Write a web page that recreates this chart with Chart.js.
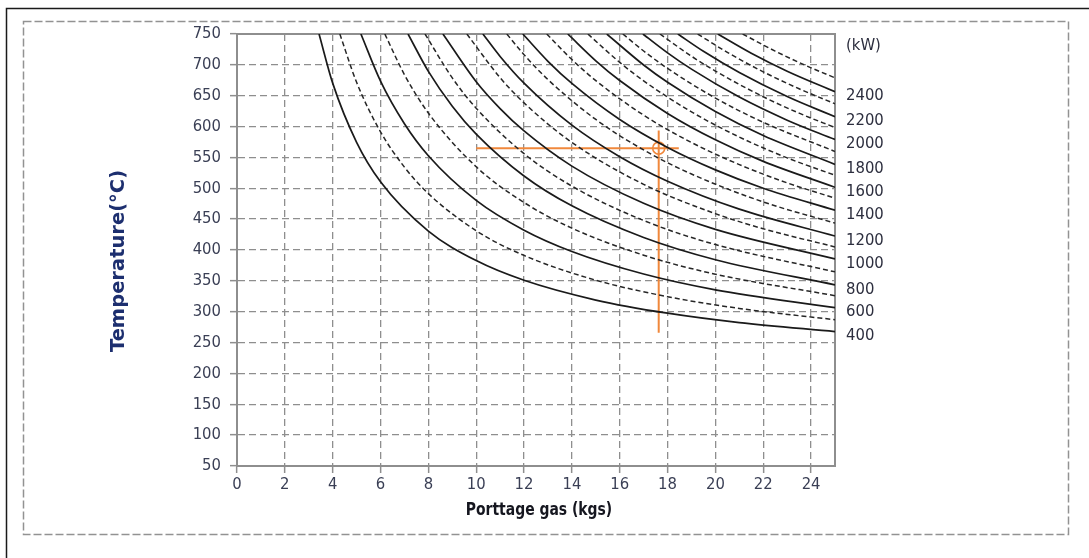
<!DOCTYPE html>
<html><head><meta charset="utf-8">
<script src="https://cdn.jsdelivr.net/npm/chart.js@4.4.1/dist/chart.umd.min.js"></script>
<style>html,body{margin:0;padding:0;background:#fff;overflow:hidden}canvas{display:block}</style>
</head><body>
<canvas id="c" width="1089" height="558"></canvas>
<script>
// ---- data ----
const xTitle = 'Porttage gas (kgs)';
const yTitle = 'Temperature(°C)';
const unitLabel = '(kW)';
const solidLabels = ['400','600','800','1000','1200','1400','1600','1800','2000','2200','2400'];

// solid curves (labelled power levels)
const kw400  = [[3.43,750],[4,670.4],[5,574.5],[6,510.6],[8,430.7],[10,382.8],[12,350.9],[15,318.9],[18,297.6],[21,282.4],[25,267.8]];
const kw600  = [[5.18,750],[6,673.6],[7,604.6],[8,552.8],[10,480.4],[12,432.1],[14,397.6],[17,361.1],[20,335.5],[25,306.5]];
const kw800  = [[7.15,750],[8,689.5],[9,633.0],[10,587.8],[12,519.9],[14,471.5],[17,420.2],[20,384.2],[25,343.5]];
const kw1000 = [[8.61,750],[10,672.7],[11,629.2],[12,592.9],[14,535.9],[17,475.6],[20,433.4],[25,385.5]];
const kw1200 = [[10.28,750],[11,713.6],[12,670.3],[14,602.3],[16,551.2],[18,511.5],[21,466.2],[25,422.6]];
const kw1400 = [[11.95,750],[13,705.8],[14,669.9],[16,611.5],[18,566.1],[20,529.8],[22,500.1],[25,464.4]];
const kw1600 = [[13.83,750],[15,706.6],[16,674.6],[18,621.2],[20,578.5],[22,543.6],[25,501.6]];
const kw1800 = [[15.46,750],[17,699.8],[18,671.8],[20,624.3],[22,585.4],[25,538.7]];
const kw2000 = [[16.97,750],[18,719.5],[19,693.1],[21,647.8],[23,610.4],[25,579.0]];
const kw2200 = [[18.43,750],[19.5,722.0],[21,687.6],[23,648.7],[25,616.0]];
const kw2400 = [[20.10,750],[21.5,718.9],[23,689.8],[25,656.5]];

// dashed curves (intermediate levels)
const kw500  = [[4.30,750],[5,671.7],[6,591.5],[7,534.3],[8,491.4],[10,431.2],[12,391.2],[15,351.1],[18,324.4],[21,305.3],[25,287.0]];
const kw700  = [[6.18,750],[7,684.1],[8,621.9],[10,534.9],[12,476.9],[14,435.4],[17,391.6],[20,360.8],[25,326.0]];
const kw900  = [[7.86,750],[9,678.8],[10,629.7],[12,556.1],[14,503.5],[17,447.8],[20,408.8],[25,364.6]];
const kw1100 = [[9.61,750],[11,679.2],[12,638.4],[14,574.3],[17,506.4],[20,458.9],[22,434.4],[25,405.0]];
const kw1300 = [[11.28,750],[12,716.5],[13,676.1],[15,611.5],[17,562.1],[19,523.1],[22,477.9],[25,443.5]];
const kw1500 = [[12.95,750],[14,708.6],[15,674.5],[17,618.5],[19,574.2],[21,538.4],[23,508.8],[25,484.0]];
const kw1700 = [[14.67,750],[16,704.0],[17,674.1],[19,623.8],[21,583.0],[23,549.3],[25,521.1]];
const kw1900 = [[16.13,750],[17,722.5],[18,694.2],[20,646.2],[22,606.9],[25,559.7]];
const kw2100 = [[17.68,750],[19,714.0],[20,689.9],[22,648.3],[23.5,621.7],[25,598.4]];
const kw2300 = [[19.26,750],[20.5,720.2],[22,688.7],[23.5,661.2],[25,637.0]];
const kw2500 = [[21.14,750],[22.5,722.2],[24,695.2],[25,679.0]];

// orange operating-point guide
const guideH  = [[10,565],[18.47,565]];
const guideV  = [[17.63,593.5],[17.63,266]];
const opPoint = [[17.63,565]];

const solidCurves  = [kw400,kw600,kw800,kw1000,kw1200,kw1400,kw1600,kw1800,kw2000,kw2200,kw2400];
const dashedCurves = [kw500,kw700,kw900,kw1100,kw1300,kw1500,kw1700,kw1900,kw2100,kw2300,kw2500];

const ORANGE = '#f0883c';
const GRID = '#8e8e8e';
const TICKCOL = '#3a3f55';

const datasets = [];
dashedCurves.forEach(d => datasets.push({data:d, borderColor:'#262626', borderWidth:1.5, borderDash:[5,3], pointRadius:0, cubicInterpolationMode:'monotone', fill:false}));
solidCurves.forEach((d,i) => datasets.push({data:d, label:solidLabels[i], isSolid:true, borderColor:'#1a1a1a', borderWidth:1.7, pointRadius:0, cubicInterpolationMode:'monotone', fill:false}));
datasets.push({data:guideH, borderColor:ORANGE, borderWidth:2, pointRadius:0, tension:0});
datasets.push({data:guideV, borderColor:ORANGE, borderWidth:2, pointRadius:0, tension:0});
datasets.push({data:opPoint, showLine:false, pointRadius:6, pointBorderWidth:1.6, pointBorderColor:ORANGE, pointBackgroundColor:'rgba(0,0,0,0)', pointStyle:'circle'});

const bgPlugin = {
  id:'bg',
  beforeDraw(chart){
    const ctx = chart.ctx;
    ctx.save();
    ctx.fillStyle = '#fff';
    ctx.fillRect(0,0,chart.width,chart.height);
    // outer dark frame line
    ctx.strokeStyle = '#1a1a1a'; ctx.lineWidth = 1.5;
    ctx.beginPath(); ctx.moveTo(6.5, chart.height); ctx.lineTo(6.5, 8.5); ctx.lineTo(chart.width, 8.5); ctx.stroke();
    // dashed panel box
    ctx.strokeStyle = '#929292'; ctx.lineWidth = 1.5; ctx.setLineDash([8,3]);
    ctx.strokeRect(23.5, 21.5, 1045, 513);
    ctx.restore();
  },
  beforeDatasetsDraw(chart){
    const ctx = chart.ctx, a = chart.chartArea;
    ctx.save();
    ctx.strokeStyle = GRID; ctx.lineWidth = 2; ctx.setLineDash([]);
    ctx.strokeRect(a.left, a.top, a.right - a.left, a.bottom - a.top);
    ctx.restore();
  },
  afterDatasetsDraw(chart){
    const ctx = chart.ctx, ys = chart.scales.y, a = chart.chartArea;
    ctx.save();
    ctx.font = '16.5px "DejaVu Sans Condensed"';
    ctx.fillStyle = '#2c2e3e';
    ctx.textAlign = 'left'; ctx.textBaseline = 'middle';
    ctx.fillText(unitLabel, a.right + 11, a.top + 12);
    chart.data.datasets.forEach(ds => {
      if (!ds.isSolid) return;
      const last = ds.data[ds.data.length - 1];
      ctx.fillText(ds.label, a.right + 11, ys.getPixelForValue(last[1]) + 4.5);
    });
    // x axis title (condensed bold)
    ctx.save();
    ctx.font = 'bold 17.5px "DejaVu Sans Condensed"';
    ctx.fillStyle = '#15161f';
    ctx.textAlign = 'center';
    ctx.translate((a.left + a.right) / 2 + 3, 510);
    ctx.scale(0.885, 1);
    ctx.fillText(xTitle, 0, 0);
    ctx.restore();
    // y axis title
    ctx.font = 'bold 19.5px "DejaVu Sans"';
    ctx.fillStyle = '#1d2f6f';
    ctx.textAlign = 'center';
    ctx.translate(119, 261);
    ctx.rotate(-Math.PI/2);
    ctx.fillText(yTitle, 0, 0);
    ctx.restore();
  }
};

new Chart(document.getElementById('c'), {
  type:'line',
  data:{datasets},
  plugins:[bgPlugin],
  options:{
    responsive:false, animation:false, events:[],
    layout:{padding:{left:104, right:254, top:34, bottom:34}},
    plugins:{legend:{display:false}, tooltip:{enabled:false}},
    scales:{
      x:{type:'linear', min:0, max:25,
        ticks:{stepSize:2, includeBounds:false, maxRotation:0, autoSkip:false, padding:2,
          font:{family:'DejaVu Sans Condensed', size:16.5}, color:TICKCOL},
        grid:{color:GRID, lineWidth:1.3, tickLength:7, tickColor:GRID, tickWidth:1.5},
        border:{dash:[7,4], color:GRID, width:2},
        afterFit(s){ s.height = 58; }
      },
      y:{type:'linear', min:50, max:750,
        ticks:{stepSize:50, padding:9, autoSkip:false,
          font:{family:'DejaVu Sans Condensed', size:16.5}, color:TICKCOL},
        grid:{color:GRID, lineWidth:1.3, tickLength:7, tickColor:GRID, tickWidth:1.5},
        border:{dash:[7,4], color:GRID, width:2},
        afterFit(s){ s.width = 133; }
      }
    }
  }
});
</script>
</body></html>
